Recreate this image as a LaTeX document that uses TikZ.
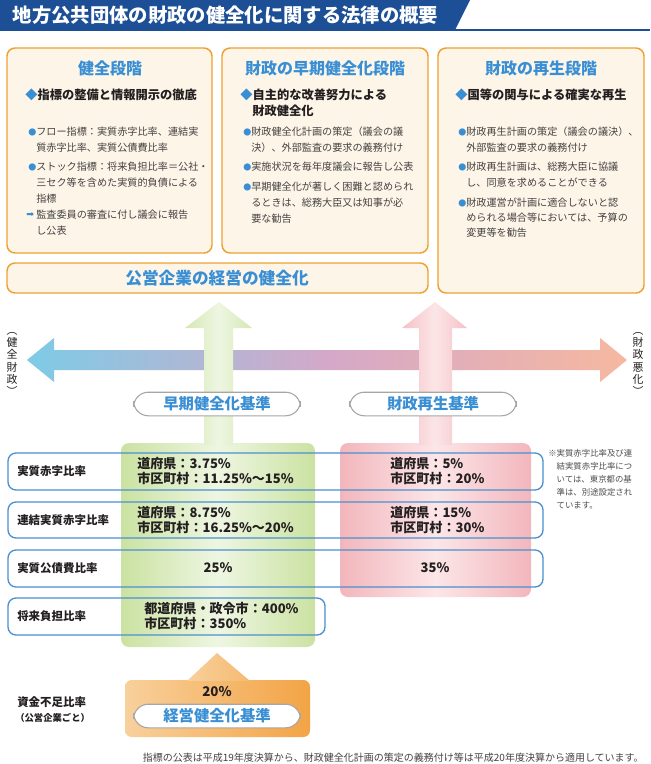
\documentclass[tikz,border=0pt]{standalone}
\usepackage{fontspec}
\setmainfont{Noto Sans CJK JP}
\newfontfamily\dv{DejaVu Sans}
\definecolor{tbar}{HTML}{1C4F96}
\definecolor{hblue}{HTML}{3A8FD4}
\definecolor{obord}{HTML}{F0A030}
\definecolor{ofill}{HTML}{FDF6E8}
\definecolor{rowb}{HTML}{4A90D0}
\definecolor{txt}{HTML}{231F20}
\definecolor{gedge}{HTML}{CBE2A2}
\definecolor{gmid}{HTML}{EEF6E2}
\definecolor{pedge}{HTML}{F2B6BC}
\definecolor{pmid}{HTML}{FCE6E8}
\definecolor{acyan}{HTML}{7DCBE6}
\definecolor{amid}{HTML}{D4A8C8}
\definecolor{asal}{HTML}{F6B8A0}
\definecolor{oleft}{HTML}{F8D09C}
\definecolor{oright}{HTML}{F3A445}
\tikzset{
 obox/.style={draw=obord,line width=1.1pt,fill=ofill,rounded corners=6pt},
 head/.style={font=\fontsize{12}{14}\selectfont\bfseries,text=hblue},
 dia/.style={anchor=west,inner sep=0,font=\fontsize{9.2}{11}\selectfont\bfseries,text=txt},
 bt/.style={anchor=west,inner sep=0,font=\fontsize{7.6}{9}\selectfont,text=txt!85},
 dot/.style={anchor=west,inner sep=0,font=\fontsize{6}{7}\selectfont,text=hblue},
 rowbox/.style={draw=rowb,line width=1pt,rounded corners=6pt},
 rlab/.style={anchor=west,inner sep=0,font=\fontsize{8.6}{10}\selectfont\bfseries,text=txt},
 val/.style={anchor=west,inner sep=0,align=left,font=\fontsize{9.8}{11.5}\selectfont\bfseries,text=txt},
 pill/.style={draw=gray!70,line width=0.8pt,fill=white,rounded corners=11pt,font=\fontsize{11.5}{13}\selectfont\bfseries,text=hblue,minimum height=16.5pt},
 vlab/.style={align=center,inner sep=0,font=\fontsize{8.2}{9.2}\selectfont,text=txt}
}
\begin{document}
\begin{tikzpicture}[x=0.75pt,y=-0.75pt]
\useasboundingbox (0,0) rectangle (650,764);
\fill[white] (0,0) rectangle (650,764);
% title
\fill[tbar] (0,0) -- (470,0) -- (455,30) -- (0,30) -- cycle;
\draw[tbar,line width=1pt] (0,30) -- (650,30);
\node[anchor=west,text=white,font=\fontsize{14.5}{16}\selectfont\bfseries] (title) at (8,15) {地方公共団体の財政の健全化に関する法律の概要};
% boxes
\draw[obox] (7,48) rectangle (212,253);
\draw[obox] (222,48) rectangle (428,253);
\draw[obox] (438,48) rectangle (644,293);
\draw[obox] (7,263) rectangle (428,293);
\node[text=hblue,font=\fontsize{12.5}{14}\selectfont\bfseries] (kigyo) at (217,278) {公営企業の経営の健全化};
\node[head] (h1) at (110,68) {健全段階};
\node[head] (h2) at (325,68) {財政の早期健全化段階};
\node[head] (h3) at (541,68) {財政の再生段階};
% left
\node[dia] at (25,95) {\textcolor{hblue}{◆}指標の整備と情報開示の徹底};
\node[dot] at (28,132) {●}; \node[bt] at (36,132) {フロー指標：実質赤字比率、連結実};
\node[bt] at (36,148) {質赤字比率、実質公債費比率};
\node[dot] at (28,167) {●}; \node[bt] at (36,167) {ストック指標：将来負担比率＝公社・};
\node[bt] at (36,183) {三セク等を含めた実質的負債による};
\node[bt] at (36,199) {指標};
\node[anchor=west,inner sep=0,text=hblue,font=\dv\fontsize{7}{8}\selectfont] at (26,215) {➡}; \node[bt] at (36,215) {監査委員の審査に付し議会に報告};
\node[bt] at (36,231) {し公表};
% mid
\node[dia] at (240,95) {\textcolor{hblue}{◆}自主的な改善努力による};
\node[dia] at (252,111) {財政健全化};
\node[dot] at (243,132) {●}; \node[bt] at (251,132) {財政健全化計画の策定（議会の議};
\node[bt] at (251,148) {決）、外部監査の要求の義務付け};
\node[dot] at (243,167) {●}; \node[bt] at (251,167) {実施状況を毎年度議会に報告し公表};
\node[dot] at (243,187) {●}; \node[bt] at (251,187) {早期健全化が著しく困難と認められ};
\node[bt] at (251,203) {るときは、総務大臣又は知事が必};
\node[bt] at (251,219) {要な勧告};
% right
\node[dia] at (455,95) {\textcolor{hblue}{◆}国等の関与による確実な再生};
\node[dot] at (458,132) {●}; \node[bt] at (466,132) {財政再生計画の策定（議会の議決）、};
\node[bt] at (466,148) {外部監査の要求の義務付け};
\node[dot] at (458,167) {●}; \node[bt] at (466,167) {財政再生計画は、総務大臣に協議};
\node[bt] at (466,183) {し、同意を求めることができる};
\node[dot] at (458,203) {●}; \node[bt] at (466,203) {財政運営が計画に適合しないと認};
\node[bt] at (466,218) {められる場合等においては、予算の};
\node[bt] at (466,233) {変更等を勧告};
% horizontal arrow
\shade[left color=acyan, right color=asal, middle color=amid]
 (27,360) -- (54,338) -- (54,350) -- (600,350) -- (600,338) -- (627,360) -- (600,382) -- (600,370) -- (54,370) -- (54,382) -- cycle;
\node[vlab] (lv) at (12,364) {︵\\健\\全\\財\\政\\︶};
\node[vlab] (rv) at (638,364) {︵\\財\\政\\悪\\化\\︶};
% panels
\shade[left color=gedge, right color=gedge, middle color=gmid, rounded corners=6pt] (121,443) rectangle (315,647);
\shade[left color=pedge, right color=pedge, middle color=pmid, rounded corners=6pt] (340,443) rectangle (531,597);
% up arrows
\shade[left color=gedge!80!white, right color=gedge!80!white, middle color=gmid]
 (204,445) -- (204,328) -- (185,328) -- (219,302) -- (252,328) -- (233,328) -- (233,445) -- cycle;
\shade[left color=pedge!85!white, right color=pedge!85!white, middle color=pmid]
 (419,445) -- (419,328) -- (402,328) -- (435,302) -- (467,328) -- (452,328) -- (452,445) -- cycle;
\node[pill,minimum width=125pt] (p1) at (217,404) {早期健全化基準};
\node[pill,minimum width=125pt] (p2) at (433,404) {財政再生基準};
% rows
\draw[rowbox] (8,453) rectangle (543,490);
\draw[rowbox] (8,502) rectangle (543,538);
\draw[rowbox] (8,550) rectangle (543,587);
\draw[rowbox] (8,598) rectangle (325,635);
\node[rlab] (r1) at (17,471) {実質赤字比率};
\node[rlab] (r2) at (17,520) {連結実質赤字比率};
\node[rlab] (r3) at (17,568) {実質公債費比率};
\node[rlab] (r4) at (17,616) {将来負担比率};
\node[val] at (137,471) {道府県：3.75\%\\市区町村：11.25\%～15\%};
\node[val] at (137,520) {道府県：8.75\%\\市区町村：16.25\%～20\%};
\node[val,anchor=center] at (218,568) {25\%};
\node[val] at (144,616) {都道府県・政令市：400\%\\市区町村：350\%};
\node[val] at (390,471) {道府県：5\%\\市区町村：20\%};
\node[val] at (390,520) {道府県：15\%\\市区町村：30\%};
\node[val,anchor=center] at (435,568) {35\%};
\node[anchor=north west,inner sep=0,align=left,text=txt!80,font=\fontsize{6.3}{9.7}\selectfont] (note) at (548,449) {※実質赤字比率及び連\\\hspace*{6.3pt}結実質赤字比率につ\\\hspace*{6.3pt}いては、東京都の基\\\hspace*{6.3pt}準は、別途設定され\\\hspace*{6.3pt}ています。};
% orange
\shade[left color=oleft, right color=oright, rounded corners=5pt] (125,680) rectangle (310,737);
\shade[left color=oleft, right color=oleft!50!oright] (187,681) -- (217,653) -- (250,681) -- cycle;
\node[font=\fontsize{10}{12}\selectfont\bfseries,text=txt] (v20) at (217,692) {20\%};
\node[pill,minimum width=125pt] (p3) at (217,716) {経営健全化基準};
\node[rlab] (sk) at (17,702) {資金不足比率};
\node[anchor=west,inner sep=0,font=\fontsize{7}{8}\selectfont\bfseries,text=txt] at (15,718) {（公営企業ごと）};
\node[anchor=east,inner sep=0,text=txt!85,font=\fontsize{7.5}{9}\selectfont] (foot) at (644,758) {指標の公表は平成19年度決算から、財政健全化計画の策定の義務付け等は平成20年度決算から適用しています。};
\end{tikzpicture}
\end{document}
